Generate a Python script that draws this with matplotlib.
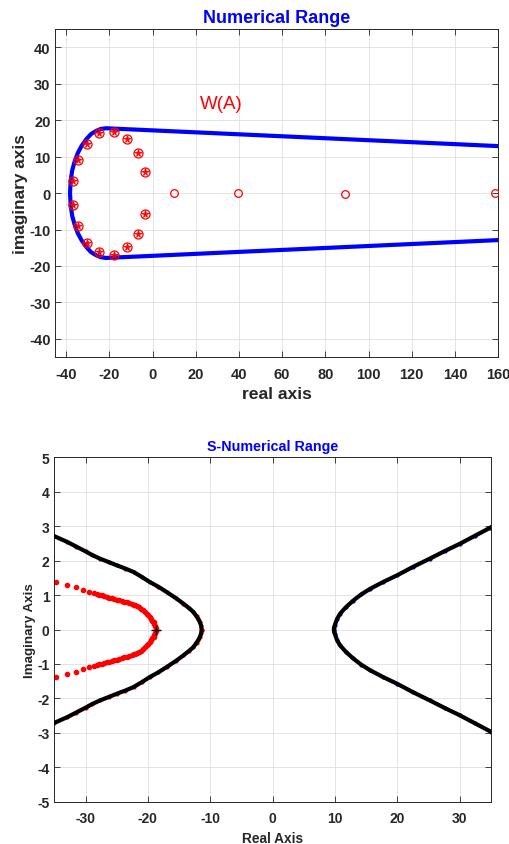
import matplotlib.pyplot as plt

plt.rcParams['font.family'] = ['Liberation Sans', 'DejaVu Sans']
plt.rcParams['font.weight'] = 'bold'
plt.rcParams['axes.unicode_minus'] = False

# ---- top panel: numerical range W(A)
bound_x = [160, -21.5, -24, -26, -28.5, -30.5, -32.8, -34.6, -36, -37.2, -37.9, -38.2,
           -37.9, -37.2, -36, -34.6, -32.8, -30.5, -28.5, -26, -24, -21.5, 160]
bound_y = [12.9, 17.8, 17.6, 17.1, 16.2, 14.9, 13.0, 11.0, 8.8, 6.2, 3.4, 0,
           -3.4, -6.2, -8.8, -11.0, -13.0, -14.9, -16.2, -17.1, -17.6, -17.8, -12.9]

eig_x = [-18.0, -24.8, -30.4, -34.7, -36.6, -36.6, -34.7, -30.4, -24.8, -18.0,
         -11.9, -6.7, -3.3, -3.3, -6.7, -11.9]
eig_y = [16.9, 16.4, 13.6, 9.05, 3.2, -3.2, -9.1, -13.6, -16.3, -17.0,
         14.8, 11.1, 5.8, -5.8, -11.1, -14.9]
real_x = [9.9, 39.4, 89.1, 158.4]
real_y = [0.1, 0.05, -0.15, 0.15]

# ---- bottom panel: S-numerical range
left_x = [-35, -33, -31.5, -30, -29, -27.7, -26.3, -25, -23.6, -22.3, -21, -19.7, -18.3,
          -17.0, -15.5, -14.3, -13.4, -12.7, -12.2, -11.9, -11.65, -11.45, -11.4]
left_y = [2.71, 2.55, 2.41, 2.27, 2.17, 2.06, 1.96, 1.865, 1.77, 1.67, 1.53, 1.38, 1.24,
          1.09, 0.91, 0.75, 0.62, 0.51, 0.38, 0.30, 0.21, 0.10, 0.0]
right_x = [35, 34.8, 32.4, 30.0, 27.6, 25.2, 22.5, 19.9, 17.7, 15.6, 14.2, 12.9,
           11.7, 10.8, 10.3, 9.95, 9.85, 9.8]
right_y = [2.97, 2.95, 2.72, 2.49, 2.28, 2.06, 1.82, 1.57, 1.38, 1.18, 1.02, 0.84,
           0.64, 0.46, 0.30, 0.12, 0.06, 0.0]

red_x = [-34.8, -32.9, -31.6, -30.4, -29.5, -28.7, -28.2, -27.8, -27.4, -27.0, -26.6,
         -26.2, -25.8, -25.4, -25.0, -24.6, -24.2, -23.8, -23.4, -23.0, -22.6, -22.3,
         -22.0, -21.7, -21.4, -21.1, -20.8, -20.5, -20.2, -19.95, -19.7, -19.5, -19.3,
         -19.1, -18.95, -18.85, -18.78, -18.75]
red_y = [1.38, 1.30, 1.23, 1.16, 1.10, 1.06, 1.03, 1.01, 0.99, 0.97, 0.95,
         0.93, 0.91, 0.89, 0.87, 0.85, 0.83, 0.81, 0.79, 0.76, 0.74, 0.72,
         0.70, 0.67, 0.64, 0.61, 0.57, 0.52, 0.46, 0.41, 0.36, 0.31, 0.26,
         0.21, 0.15, 0.10, 0.05, 0.0]
center = (-18.7, 0)

fig = plt.figure(figsize=(5.09, 8.45), dpi=100)
gray = '#262626'


def style(ax, fs, pad):
    ax.grid(True, color='#dfdfdf', lw=0.6)
    ax.set_axisbelow(True)
    ax.tick_params(direction='in', top=True, right=True, length=4, width=0.6,
                   colors=gray, labelsize=fs)
    ax.tick_params(axis='x', pad=pad)
    for s in ax.spines.values():
        s.set_color(gray)
        s.set_linewidth(0.7)
    for lab in ax.get_xticklabels() + ax.get_yticklabels():
        lab.set_fontweight('bold')


ax1 = fig.add_axes([0.1087, 0.5763, 0.870, 0.388])
ax1.plot(bound_x, bound_y, color='blue', lw=3.0, zorder=2)
ax1.plot(eig_x, eig_y, 'o', ms=6.5, mfc='none', mec='red', mew=0.9, zorder=3)
ax1.plot(eig_x, eig_y, '*', ms=5.5, color='red', mew=0.6, zorder=3)
ax1.plot(real_x, real_y, 'o', ms=5.5, mfc='none', mec='red', mew=0.9, zorder=3)
ax1.text(22, 24.5, 'W(A)', color='red', fontsize=13.5, fontweight='normal', va='center')
ax1.set_xlim(-45, 160)
ax1.set_ylim(-45, 45)
ax1.set_xticks(range(-40, 161, 20))
ax1.set_yticks(range(-40, 41, 10))
style(ax1, 10.5, 7)
ax1.set_title('Numerical Range', color='blue', fontsize=13, fontweight='bold', pad=5)
ax1.set_xlabel('real axis', fontsize=12.6, fontweight='bold', color=gray, labelpad=4)
ax1.set_ylabel('imaginary axis', fontsize=12.4, fontweight='bold', color=gray, labelpad=1)

ax2 = fig.add_axes([0.1067, 0.0500, 0.858, 0.4076])
ax2.plot(red_x, red_y, '.', color='red', ms=6, zorder=2)
ax2.plot(red_x, [-v for v in red_y], '.', color='red', ms=6, zorder=2)
ax2.plot(left_x, left_y, '.', color='red', ms=4, zorder=2)
ax2.plot(left_x, [-v for v in left_y], '.', color='red', ms=4, zorder=2)
ax2.plot(right_x, right_y, '.', color='blue', ms=4, zorder=2)
ax2.plot(right_x, [-v for v in right_y], '.', color='blue', ms=4, zorder=2)
ax2.plot(left_x + left_x[::-1], left_y + [-v for v in left_y[::-1]],
         color='black', lw=3.0, zorder=3)
ax2.plot(right_x + right_x[::-1], right_y + [-v for v in right_y[::-1]],
         color='black', lw=3.0, zorder=3)
ax2.plot(*center, '+', color='black', ms=7, mew=1.0, zorder=4)
ax2.set_xlim(-35, 35)
ax2.set_ylim(-5, 5)
ax2.set_xticks(range(-30, 31, 10))
ax2.set_yticks(range(-5, 6, 1))
style(ax2, 10, 7)
ax2.set_title('S-Numerical Range', color='blue', fontsize=10.3, fontweight='bold', pad=5)
ax2.set_xlabel('Real Axis', fontsize=9.8, fontweight='bold', color=gray, labelpad=4)
ax2.set_ylabel('Imaginary Axis', fontsize=9.6, fontweight='bold', color=gray, labelpad=1)

plt.savefig('out.png', dpi=100)
